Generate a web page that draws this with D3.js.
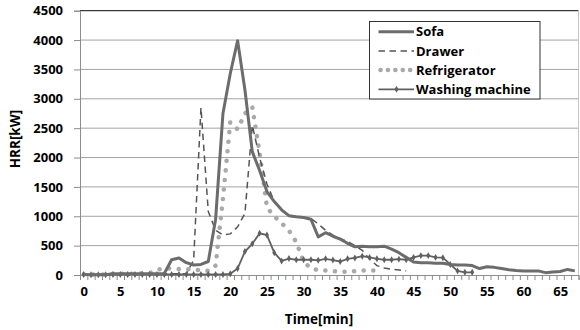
<!DOCTYPE html>
<html>
<head>
<meta charset="utf-8">
<script src="https://cdnjs.cloudflare.com/ajax/libs/d3/7.8.5/d3.min.js"></script>
<style>
  body { margin: 0; background: #fff; }
  text { font-family: "Open Sans", "Liberation Sans", sans-serif; font-weight: bold; fill: #000; }
</style>
</head>
<body>
<div class="chart"></div>
<script>
// chart data (minutes are the index of each value)

var seriesNames = ['Sofa', 'Drawer', 'Refrigerator', 'Washing machine'];

var sofa = [10, 5, 5, 5, 20, 20, 20, 20, 20, 20,
  20, 25, 260, 290, 210, 170, 180, 230, 950, 2750,
  3430, 3990, 3150, 2100, 1780, 1420, 1250, 1110, 1010, 990,
  980, 950, 650, 720, 660, 610, 540, 480, 490, 480,
  480, 490, 440, 380, 300, 220, 210, 210, 200, 200,
  180, 170, 170, 160, 110, 140, 130, 110, 90, 75,
  70, 70, 70, 40, 50, 60, 95, 70];

var drawer = [10, 10, 10, 5, 10, 10, 20, 20, 20, 20,
  20, 20, 20, 20, 20, 250, 2850, 1080, 760, 680,
  700, 820, 1050, 2550, 2000, 1550, 1250, 1100, 1000, 990,
  980, 960, 870, 760, 680, 620, 570, 500, 420, 270,
  160, 120, 100, 85, 70];

var refrigerator = [10, 10, 10, 10, 20, 20, 20, 20, 30, 30,
  90, 110, 110, 100, 100, 90, 80, 70, 160, 1300,
  2600, 2480, 2750, 2860, 2080, 1150, 1000, 880, 760, 560,
  230, 110, 85, 75, 65, 55, 55, 65, 75, 75,
  75];

var washing = [10, 5, 5, 5, 10, 10, 10, 10, 10, 10,
  10, 10, 10, 10, 10, 10, 10, 10, 10, 10,
  20, 110, 400, 530, 710, 680, 380, 240, 280, 260,
  260, 260, 250, 275, 255, 230, 275, 290, 320, 300,
  275, 260, 260, 270, 260, 300, 330, 330, 300, 295,
  180, 70, 45, 45];

var yTicks = [0, 500, 1000, 1500, 2000, 2500, 3000, 3500, 4000, 4500];
var xTicks = [0, 5, 10, 15, 20, 25, 30, 35, 40, 45, 50, 55, 60, 65];

// setup

var width = 580,
    height = 330;

var plotLeft = 80, plotRight = 578.5, plotTop = 10.7, plotBottom = 275;

var svg = d3.select('.chart').append('svg')
    .attr('width', width)
    .attr('height', height);

svg.append('rect')
    .attr('width', width)
    .attr('height', height)
    .attr('fill', '#fff');

var x = d3.scaleLinear().domain([-0.5, 67.5]).range([plotLeft, plotRight]);
var y = d3.scaleLinear().domain([0, 4500]).range([plotBottom, plotTop]);

// gridlines
svg.append('g')
    .selectAll('line')
    .data(yTicks.slice(1, -1))
    .enter().append('line')
    .attr('x1', plotLeft)
    .attr('x2', plotRight)
    .attr('y1', function(d) { return y(d); })
    .attr('y2', function(d) { return y(d); })
    .attr('stroke', '#a3a3a3')
    .attr('stroke-width', 1);

// plot frame: dark top, light right
svg.append('line')
    .attr('x1', plotLeft).attr('x2', plotRight)
    .attr('y1', y(4500)).attr('y2', y(4500))
    .attr('stroke', '#3a3a3a').attr('stroke-width', 1.2);
svg.append('line')
    .attr('x1', plotRight).attr('x2', plotRight)
    .attr('y1', y(4500)).attr('y2', plotBottom)
    .attr('stroke', '#c4c4c4').attr('stroke-width', 1);

// y axis
var yAxis = d3.axisLeft(y)
    .tickValues(yTicks)
    .tickFormat(d3.format('d'))
    .tickSize(6)
    .tickPadding(11);

var gy = svg.append('g')
    .attr('transform', 'translate(' + plotLeft + ',0)')
    .call(yAxis);
gy.selectAll('text').style('font-size', '13px');

// x axis: ticks on category edges, labels on category centers
var edges = d3.range(-0.5, 68, 1);
svg.append('g')
    .attr('transform', 'translate(0,' + plotBottom + ')')
    .call(d3.axisBottom(x).tickValues(edges).tickSize(5).tickFormat(''));

svg.append('g')
    .attr('transform', 'translate(0,' + plotBottom + ')')
    .call(d3.axisBottom(x).tickValues(xTicks).tickSize(0).tickPadding(12))
    .call(function(g) { g.select('.domain').remove(); })
    .selectAll('text').style('font-size', '13px');

svg.selectAll('.domain').attr('stroke', '#8c8c8c');
svg.selectAll('.tick line').attr('stroke', '#8c8c8c');

// axis titles
svg.append('text')
    .attr('x', 319)
    .attr('y', 324)
    .attr('text-anchor', 'middle')
    .style('font-size', '13.5px')
    .text('Time[min]');

svg.append('text')
    .attr('transform', 'translate(20,139) rotate(-90)')
    .attr('text-anchor', 'middle')
    .style('font-size', '13.5px')
    .text('HRR[kW]');

// lines
var line = d3.line()
    .x(function(d, i) { return x(i); })
    .y(function(d) { return y(d); });

var plot = svg.append('g');

plot.append('path')
    .datum(refrigerator)
    .attr('d', line)
    .attr('fill', 'none')
    .attr('stroke', '#a9a9a9')
    .attr('stroke-width', 4.5)
    .attr('stroke-linecap', 'round')
    .attr('stroke-dasharray', '0.1,9.5');

plot.append('path')
    .datum(drawer)
    .attr('d', line)
    .attr('fill', 'none')
    .attr('stroke', '#555')
    .attr('stroke-width', 1.5)
    .attr('stroke-dasharray', '6.5,4.5');

plot.append('path')
    .datum(washing)
    .attr('d', line)
    .attr('fill', 'none')
    .attr('stroke', '#606060')
    .attr('stroke-width', 1.8);

plot.selectAll('.mark')
    .data(washing)
    .enter().append('path')
    .attr('class', 'mark')
    .attr('d', d3.symbol().type(d3.symbolDiamond).size(14))
    .attr('transform', function(d, i) { return 'translate(' + x(i) + ',' + y(d) + ')'; })
    .attr('fill', '#606060');

plot.append('path')
    .datum(sofa)
    .attr('d', line)
    .attr('fill', 'none')
    .attr('stroke', '#6c6c6c')
    .attr('stroke-width', 3)
    .attr('stroke-linejoin', 'round');

// legend
var legend = svg.append('g').attr('transform', 'translate(369.5,21.5)');

legend.append('rect')
    .attr('width', 170.5)
    .attr('height', 77.5)
    .attr('fill', '#fff')
    .attr('stroke', '#333')
    .attr('stroke-width', 1);

var rows = legend.selectAll('.row')
    .data(seriesNames)
    .enter().append('g')
    .attr('class', 'row')
    .attr('transform', function(d, i) { return 'translate(0,' + (10.2 + i * 19.2) + ')'; });

rows.append('text')
    .attr('x', 46.5)
    .attr('y', 4.6)
    .style('font-size', '13px')
    .text(function(d) { return d; });

var sample = [
  { stroke: '#6c6c6c', width: 3, dash: null, cap: 'butt' },
  { stroke: '#555', width: 1.5, dash: '6.5,4.5', cap: 'butt' },
  { stroke: '#a9a9a9', width: 4.5, dash: '0.1,7.3', cap: 'round' },
  { stroke: '#606060', width: 1.8, dash: null, cap: 'butt' }
];

rows.append('line')
    .attr('x1', function(d, i) { return i === 2 ? 11 : 9; })
    .attr('x2', 44.5)
    .attr('y1', 0).attr('y2', 0)
    .attr('stroke', function(d, i) { return sample[i].stroke; })
    .attr('stroke-width', function(d, i) { return sample[i].width; })
    .attr('stroke-dasharray', function(d, i) { return sample[i].dash; })
    .attr('stroke-linecap', function(d, i) { return sample[i].cap; });

rows.filter(function(d, i) { return i === 3; })
    .append('path')
    .attr('d', d3.symbol().type(d3.symbolDiamond).size(14))
    .attr('transform', 'translate(27,0)')
    .attr('fill', '#606060');
</script>
</body>
</html>
